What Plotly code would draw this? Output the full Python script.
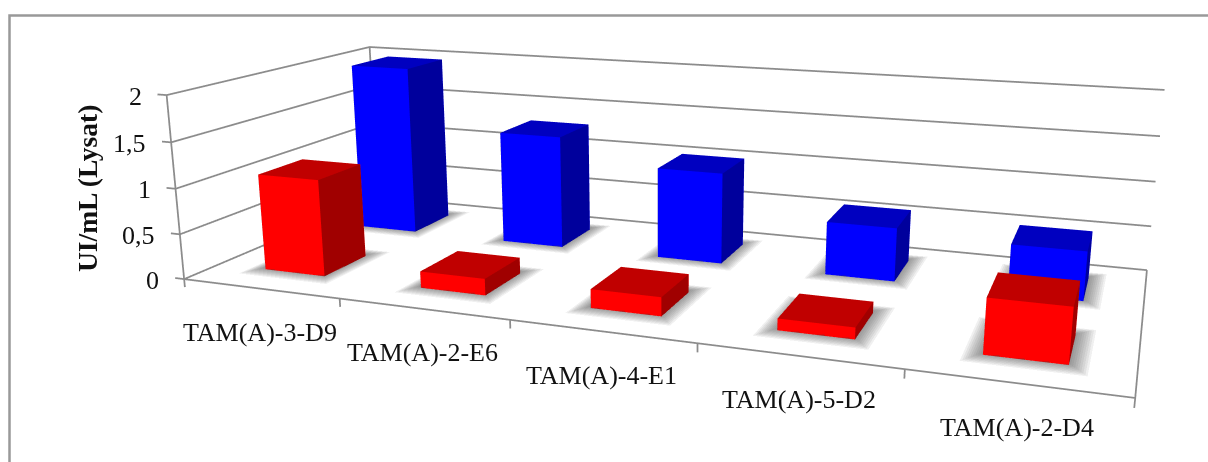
import plotly.graph_objects as go

categories = ["TAM(A)-3-D9", "TAM(A)-2-E6", "TAM(A)-4-E1", "TAM(A)-5-D2", "TAM(A)-2-D4"]
red_values = [1.07, 0.18, 0.20, 0.12, 0.55]
blue_values = [1.98, 1.30, 1.03, 0.59, 0.53]
z_ticks = [0, 0.5, 1, 1.5, 2]
z_labels = ["0", "0,5", "1", "1,5", "2"]

RED = ("#ff0000", "#a00000", "#c00000")
BLUE = ("#0000ff", "#00009c", "#0000c0")
GRID = "#8c8c8c"
FONT = "Liberation Serif"
HALF_W, HALF_D = 0.195, 0.105
X_OFF = 0.505
Y_RED, Y_BLUE = 0.26, 0.755

# plotly's 3D field of view is fixed, so the canvas is larger than the window and shifted
FIG_W, FIG_H, TOP = 1319, 1142, -340


def px(x):
    return x / FIG_W


def py(y):
    return 1 - (y - TOP) / FIG_H


def box(cx, cy, h, colors):
    x0, x1 = cx - HALF_W, cx + HALF_W
    y0, y1 = cy - HALF_D, cy + HALF_D
    xs = [x0, x1, x1, x0, x0, x1, x1, x0]
    ys = [y0, y0, y1, y1, y0, y0, y1, y1]
    zs = [0, 0, 0, 0, h, h, h, h]
    i = [0, 0, 1, 1, 4, 4, 3, 3, 0, 0, 2, 2]
    j = [1, 5, 2, 6, 5, 6, 2, 6, 3, 7, 1, 0]
    k = [5, 4, 6, 5, 6, 7, 6, 7, 7, 4, 0, 3]
    fc = [colors[0]] * 2 + [colors[1]] * 2 + [colors[2]] * 2 + [colors[0]] * 2 + [colors[1]] * 2 + [colors[1]] * 2
    return go.Mesh3d(x=xs, y=ys, z=zs, i=i, j=j, k=k, facecolor=fc, flatshading=True,
                     lighting=dict(ambient=1, diffuse=0, specular=0, roughness=1, fresnel=0),
                     hoverinfo="skip", showscale=False)


def shadow(cx, cy, grow_x, grow_y, level):
    x0, x1 = cx - HALF_W - grow_x, cx + HALF_W + grow_x
    y0, y1 = cy - HALF_D - grow_y, cy + HALF_D + grow_y
    return go.Mesh3d(x=[x0, x1, x1, x0], y=[y0, y0, y1, y1], z=[level] * 4,
                     i=[0, 0], j=[1, 2], k=[2, 3], color="#404040", opacity=0.08,
                     lighting=dict(ambient=1, diffuse=0, specular=0), hoverinfo="skip", showscale=False)


def frame(xs, ys, zs):
    return go.Scatter3d(x=xs, y=ys, z=zs, mode="lines", line=dict(color=GRID, width=3.5), hoverinfo="skip")


fig = go.Figure()
steps = 9
for n in range(len(categories)):
    for m in range(steps):
        t = 1 - m / steps
        level = 0.002 + 0.002 * m
        fig.add_trace(shadow(n + X_OFF, Y_BLUE, 0.09 * t, 0.06 * t, level))
        fig.add_trace(shadow(n + X_OFF, Y_RED, 0.09 * t, 0.06 * t, level))
for n in range(len(categories)):
    fig.add_trace(box(n + X_OFF, Y_BLUE, blue_values[n], BLUE))
    fig.add_trace(box(n + X_OFF, Y_RED, red_values[n], RED))

xmax, ymax, zmax = len(categories), 1, z_ticks[-1]
# floor outline and wall verticals
fig.add_trace(frame([0, xmax, xmax], [0, 0, ymax], [0, 0, 0]))
fig.add_trace(frame([0, 0], [0, 0], [-0.09, zmax]))
fig.add_trace(frame([0, 0], [ymax, ymax], [0, zmax]))
# horizontal gridlines on both walls
for z in z_ticks:
    fig.add_trace(frame([0, 0, xmax], [0, ymax, ymax], [z, z, z]))
# tick marks
for n in range(xmax + 1):
    fig.add_trace(frame([n, n], [0, 0], [0, -0.09]))
for z in z_ticks:
    fig.add_trace(frame([0, -0.06], [0, 0], [z, z]))

axis_common = dict(showbackground=False, showspikes=False, title="", showticklabels=False,
                   showline=False, zeroline=False, showgrid=False, ticks="")

scene_notes = []
for n, c in enumerate(categories):
    scene_notes.append(dict(x=n + 0.5, y=0, z=0, text=c, showarrow=False, xshift=0, yshift=-44,
                            xanchor="center", yanchor="middle",
                            font=dict(family=FONT, size=26, color="#111111")))
for z, t in zip(z_ticks, z_labels):
    scene_notes.append(dict(x=0, y=0, z=z, text=t, showarrow=False, xshift=-23, yshift=-1,
                            xanchor="right", yanchor="middle",
                            font=dict(family=FONT, size=26, color="#111111")))

fig.update_layout(
    width=FIG_W, height=FIG_H, paper_bgcolor="white", showlegend=False,
    margin=dict(l=0, r=0, t=0, b=0),
    scene=dict(
        domain=dict(x=[0, 1], y=[0, 1]),
        aspectmode="manual", aspectratio=dict(x=3.12, y=1.33617, z=0.69446),
        camera=dict(eye=dict(x=1.5224, y=-4.1693, z=1.07805),
                    center=dict(x=0.0082, y=-0.0506, z=-0.12275),
                    up=dict(x=-0.0913, y=0.2476, z=0.9645),
                    projection=dict(type="perspective")),
        # ranges are a little wider than the plot box so frame lines and ticks are not clipped
        xaxis=dict(axis_common, range=[-0.15, 5.05]),
        yaxis=dict(axis_common, range=[-0.05, 1.05]),
        zaxis=dict(axis_common, range=[-0.2, 2.05]),
        annotations=scene_notes,
    ),
    annotations=[dict(text="<b>UI/mL (Lysat)</b>", x=px(87), y=py(189), xref="paper", yref="paper",
                      xanchor="center", yanchor="middle",
                      showarrow=False, textangle=-90,
                      font=dict(family=FONT, size=27.5, color="#111111"))],
    shapes=[dict(type="rect", xref="paper", yref="paper", x0=px(9.5), x1=px(1300), y0=py(500), y1=py(15.5),
                 line=dict(color="#999999", width=2.5))],
)
post = ("document.documentElement.style.overflow='hidden';document.body.style.overflow='hidden';"
        "document.body.style.margin='0';var g=document.getElementById('{plot_id}');"
        "g.style.position='absolute';g.style.left='0px';g.style.top='%dpx';" % TOP)
fig.write_html("out.html", post_script=post, config={"displayModeBar": False})
